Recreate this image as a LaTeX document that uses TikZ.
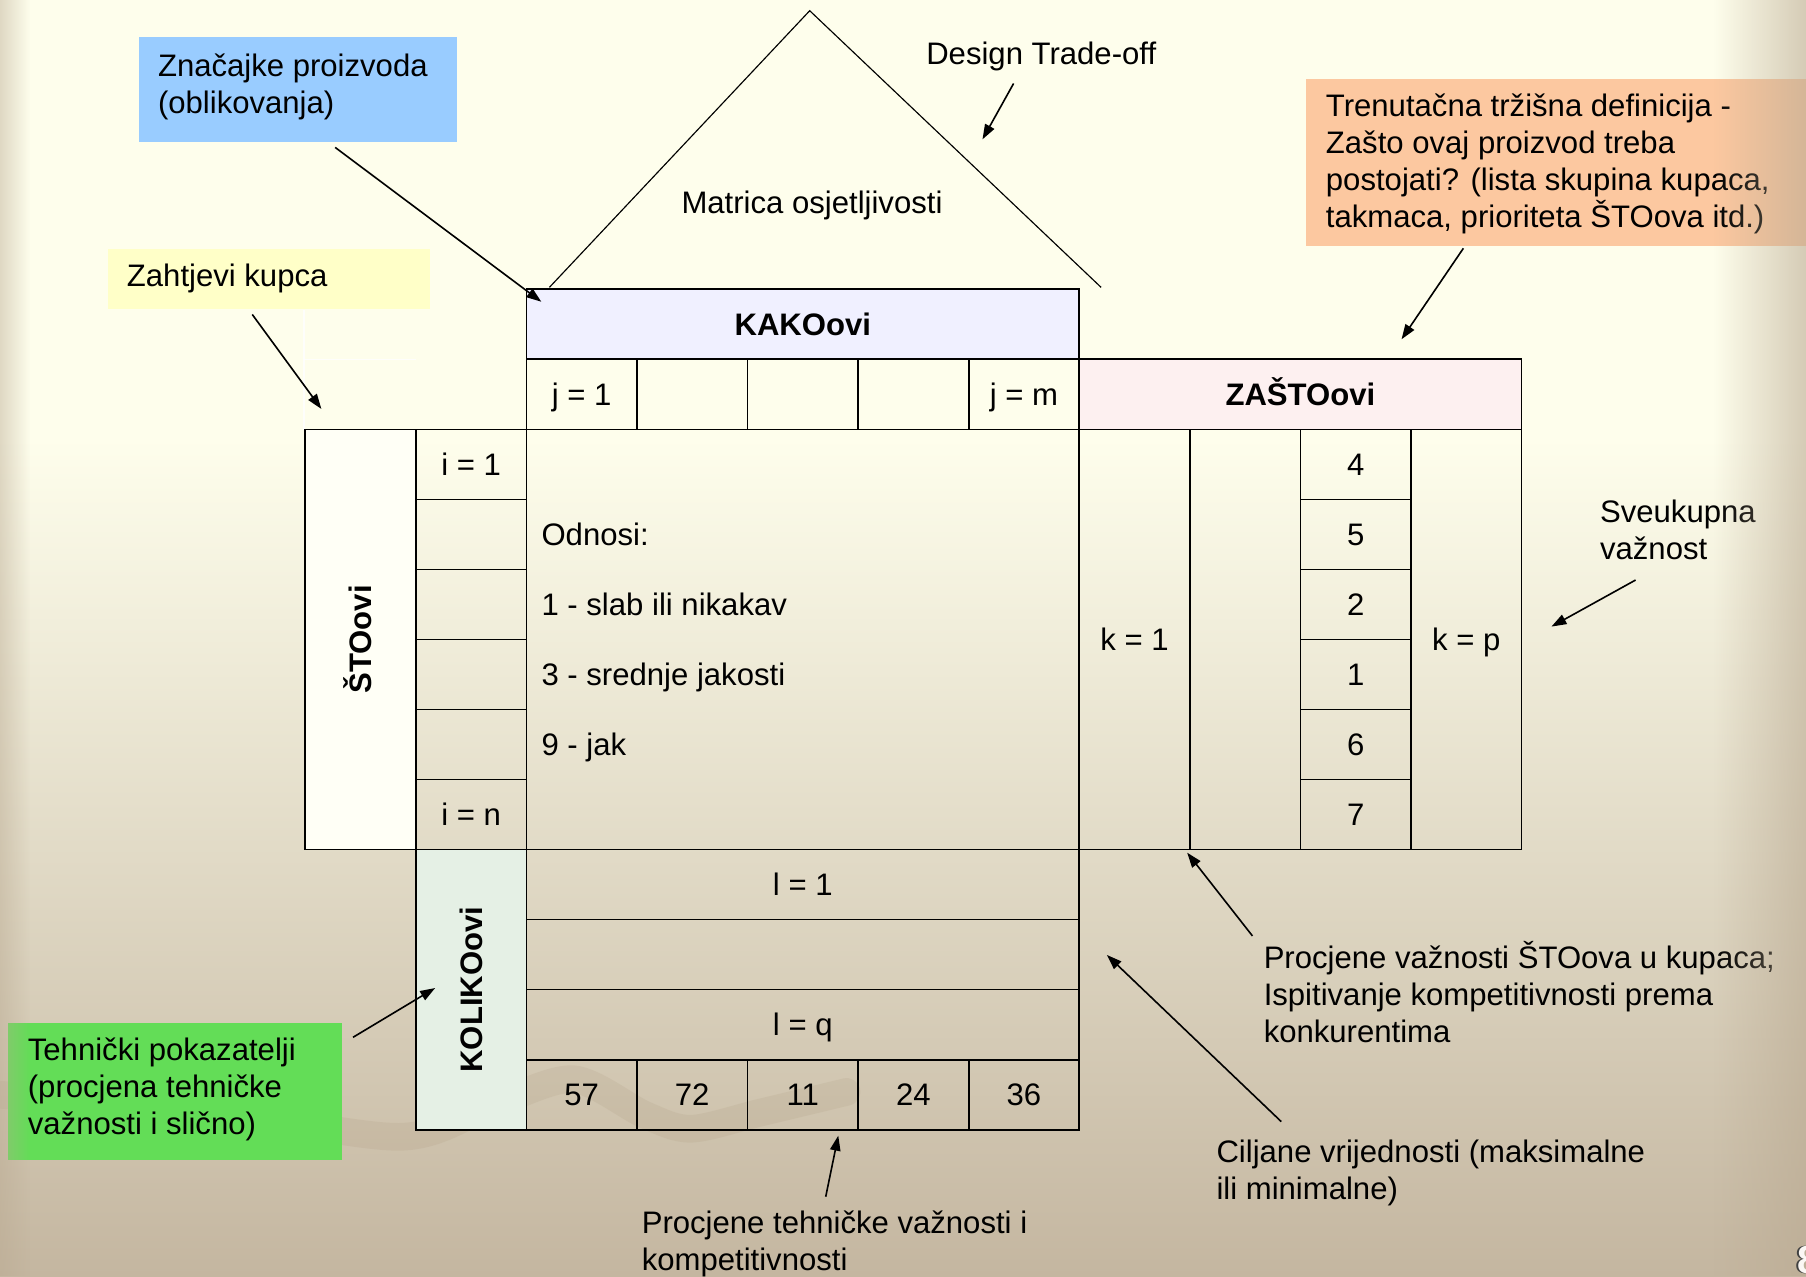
\documentclass[tikz,border=0pt]{standalone}
\usepackage{fontspec}
\setmainfont{Liberation Sans}
\usetikzlibrary{arrows.meta,fadings}

% slide background
\definecolor{bgtop}{RGB}{254,254,236}
\definecolor{bgbot}{RGB}{196,182,160}
\definecolor{edgetan}{RGB}{186,170,146}
\definecolor{swoosh}{RGB}{160,138,110}
% callout boxes
\definecolor{boxblue}{RGB}{153,204,255}
\definecolor{boxyellow}{RGB}{255,255,200}
\definecolor{boxpeach}{RGB}{252,200,160}
\definecolor{boxgreen}{RGB}{99,221,87}
% house of quality areas
\definecolor{kakofill}{RGB}{240,240,255}
\definecolor{zastofill}{RGB}{253,240,240}
\definecolor{stofill}{RGB}{255,255,246}
\definecolor{kolikofill}{RGB}{229,240,229}

% left-aligned multi-line text whose baseline is that of the first line
\newcommand\mlines[1]{\vtop{\halign{##\hfil\cr#1\crcr}}}

\tikzfading[name=fadeleft, left color=transparent!0, right color=transparent!100]
\tikzfading[name=faderight, left color=transparent!100, right color=transparent!0]

\begin{document}
\begin{tikzpicture}[x=1pt,y=-1pt,
  txt/.style={font=\fontsize{27}{32}\selectfont, inner sep=0pt},
  cell/.style={txt, text height=19.4pt, text depth=0pt},
  boldcell/.style={cell, font=\fontsize{27}{32}\selectfont\bfseries},
  grid/.style={draw=black, line width=1.5pt},
  roof/.style={draw=black, line width=1pt},
  arr/.style={draw=black, line width=1.4pt, -{Triangle[length=13pt,width=9pt]}},
  callout/.style={anchor=north west, inner sep=0pt, outer sep=0pt}]

\useasboundingbox (0,0) rectangle (1568,1108);

% ---- background ----
\fill[bgtop] (0,0) rectangle (1568,1108);
\shade[top color=bgtop, bottom color=bgbot] (0,380) rectangle (1568,1108);
\draw[swoosh, opacity=0.13, line width=24pt, line cap=round]
  plot[smooth] coordinates {(-10,950) (170,962) (347,987) (430,958) (498,937)
                            (560,968) (600,980) (660,966) (735,948)};

% ---- callout boxes ----
\node[callout, fill=boxblue,   minimum width=276pt, minimum height=91pt]  (znacbox)  at (121,32)  {};
\node[callout, fill=boxyellow, minimum width=279pt, minimum height=52pt]  (zahtbox)  at (94,216)  {};
\node[callout, fill=boxpeach,  minimum width=440pt, minimum height=145pt] (trenbox)  at (1134,69) {};
\node[callout, fill=boxgreen,  minimum width=290pt, minimum height=119pt] (tehnbox)  at (7,888)   {};

% faint leftover cell edges
\draw[white, line width=1pt, opacity=0.8] (264,269) -- (264,373);
\draw[white, line width=1pt, opacity=0.8] (264,312) -- (361,312);

% ---- roof: correlation matrix ----
\coordinate (peak)  at (703,9.3);
\coordinate (roofL) at (477,249.5);
\coordinate (roofR) at (956,249.5);
\draw[roof] (roofL) -- (peak) -- (roofR);
\node[cell] (matrica) at (705,176) {Matrica osjetljivosti};

% ---- house of quality grid ----
\begin{scope}[xshift=265pt, yshift=-251.2pt, x=96pt, y=-60.8pt]
  % fills
  \fill[kakofill]   (2,0) rectangle (7,1);
  \fill[zastofill]  (7,1) rectangle (11,2);
  \fill[stofill]    (0,2) rectangle (1,8);
  \fill[kolikofill] (1,8) rectangle (2,12);
  % KAKOovi header and j row
  \draw[grid] (2,0) rectangle (7,1);
  \draw[grid] (2,1) rectangle (7,2);
  \foreach \c in {3,...,6} \draw[grid] (\c,1) -- (\c,2);
  % ZAŠTOovi header
  \draw[grid] (7,1) rectangle (11,2);
  % ŠTOovi column and i column
  \draw[grid] (0,2) rectangle (1,8);
  \draw[grid] (1,2) rectangle (2,8);
  \foreach \r in {3,...,7} \draw[grid] (1,\r) -- (2,\r);
  % relationship matrix
  \draw[grid] (2,2) rectangle (7,8);
  % right-hand columns
  \draw[grid] (7,2) rectangle (11,8);
  \foreach \c in {8,9,10} \draw[grid] (\c,2) -- (\c,8);
  \foreach \r in {3,...,7} \draw[grid] (9,\r) -- (10,\r);
  % bottom part
  \draw[grid] (1,8) rectangle (7,12);
  \draw[grid] (2,8) -- (2,12);
  \foreach \r in {9,10,11} \draw[grid] (2,\r) -- (7,\r);
  \foreach \c in {3,...,6} \draw[grid] (\c,11) -- (\c,12);

  % texts
  \node[boldcell] (kako)  at (4.5,0.5) {KAKOovi};
  \node[cell]     (j1)    at (2.5,1.5) {j = 1};
  \node[cell]     (jm)    at (6.5,1.5) {j = m};
  \node[boldcell] (zasto) at (9,1.5)   {ZAŠTOovi};
  \node[boldcell, rotate=90] (sto) at (0.5,5) {ŠTOovi};
  \node[cell]     (i1)    at (1.5,2.5) {i = 1};
  \node[cell]     (in)    at (1.5,7.5) {i = n};
  \node[cell, anchor=west] (odnosi) at (2.135,3.5) {Odnosi:};
  \node[cell, anchor=west] (rel1)   at (2.135,4.5) {1 - slab ili nikakav};
  \node[cell, anchor=west] (rel3)   at (2.135,5.5) {3 - srednje jakosti};
  \node[cell, anchor=west] (rel9)   at (2.135,6.5) {9 - jak};
  \node[cell]     (k1)    at (7.5,5)   {k = 1};
  \node[cell]     (kp)    at (10.5,5)  {k = p};
  \foreach \v [count=\n] in {4,5,2,1,6,7}
    \node[cell] (w\n) at (9.5,1.5+\n) {\v};
  \node[boldcell, rotate=90] (koliko) at (1.5,10) {KOLIKOovi};
  \node[cell]     (l1)    at (4.5,8.5)  {l = 1};
  \node[cell]     (lq)    at (4.5,10.5) {l = q};
  \foreach \v [count=\n] in {57,72,11,24,36}
    \node[cell] (t\n) at (1.5+\n,11.5) {\v};
\end{scope}

% ---- callout texts ----
\node[txt, anchor=base west] (znac) at (137,66.5)
  {\mlines{Značajke proizvoda\cr (oblikovanja)}};
\node[txt, anchor=base west] (zaht) at (110,248.5) {Zahtjevi kupca};
\node[txt, anchor=base west] (tren) at (1151,101.5)
  {\mlines{Trenutačna tržišna definicija -\cr
           Zašto ovaj proizvod treba\cr
           postojati? (lista skupina kupaca,\cr
           takmaca, prioriteta ŠTOova itd.)}};
\node[txt, anchor=base west] (tehn) at (24,921)
  {\mlines{Tehnički pokazatelji\cr (procjena tehničke\cr važnosti i slično)}};
\node[txt, anchor=base west] (design) at (804,56) {Design Trade-off};
\node[txt, anchor=base west] (sveuk) at (1389,454)
  {\mlines{Sveukupna\cr važnost}};
\node[txt, anchor=base west] (procv) at (1097,841)
  {\mlines{Procjene važnosti ŠTOova u kupaca;\cr
           Ispitivanje kompetitivnosti prema\cr
           konkurentima}};
\node[txt, anchor=base west] (cilj) at (1056,1009.5)
  {\mlines{Ciljane vrijednosti (maksimalne\cr ili minimalne)}};
\node[txt, anchor=base west] (proct) at (557,1071)
  {\mlines{Procjene tehničke važnosti i\cr kompetitivnosti}};

% ---- pointer arrows ----
\coordinate (znacS)  at (291,128);    \coordinate (znacE)  at (470,262);
\coordinate (zahtS)  at (219,273);    \coordinate (zahtE)  at (279,355);
\coordinate (desS)   at (880,72.5);   \coordinate (desE)   at (853,121);
\coordinate (trenS)  at (1270.5,215.6); \coordinate (trenE) at (1216.8,294.6);
\coordinate (sveS)   at (1420,503.6); \coordinate (sveE)   at (1347,544);
\coordinate (procvS) at (1087.4,812.6); \coordinate (procvE) at (1030.7,740.3);
\coordinate (ciljS)  at (1112.4,973.8); \coordinate (ciljE)  at (961,829.1);
\coordinate (proctS) at (716.9,1039); \coordinate (proctE) at (727.8,986);
\coordinate (tehnS)  at (306.5,900.6); \coordinate (tehnE)  at (377.8,857.8);
\draw[arr] (znacS)  -- (znacE);
\draw[arr] (zahtS)  -- (zahtE);
\draw[arr] (desS)   -- (desE);
\draw[arr] (trenS)  -- (trenE);
\draw[arr] (sveS)   -- (sveE);
\draw[arr] (procvS) -- (procvE);
\draw[arr] (ciljS)  -- (ciljE);
\draw[arr] (proctS) -- (proctE);
\draw[arr] (tehnS)  -- (tehnE);

% ---- slide edge shading ----
\fill[edgetan, path fading=fadeleft, fill opacity=0.45] (0,0) rectangle (26,1108);
\fill[edgetan, path fading=faderight, fill opacity=0.6] (1488,0) rectangle (1568,1108);

% ---- slide number ----
\node[font=\fontsize{34}{34}\selectfont\bfseries, text=black!75, anchor=north west, inner sep=0pt]
  (pgnumdark) at (1558.6,1082) {8};
\node[font=\fontsize{34}{34}\selectfont\bfseries, text=white!94!brown, anchor=north west, inner sep=0pt]
  (pgnum) at (1560,1082) {8};
\end{tikzpicture}
\end{document}
